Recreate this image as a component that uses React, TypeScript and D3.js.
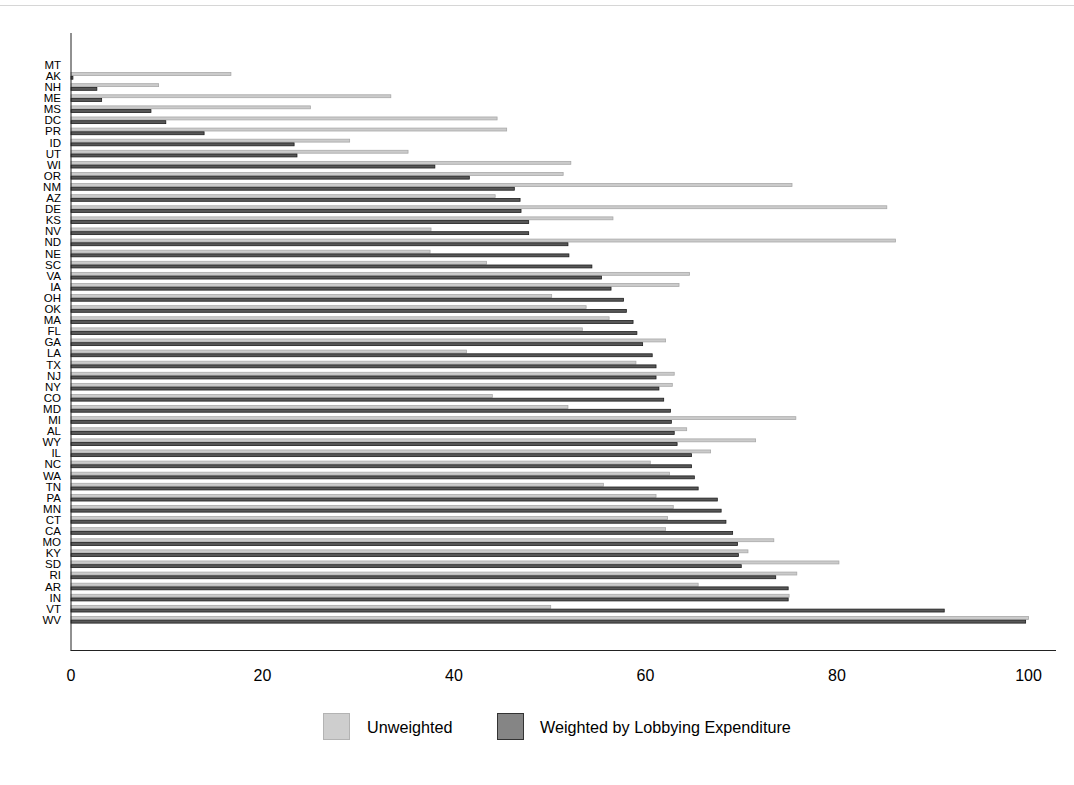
import React from "react";
import * as d3 from "d3";

const states: string[] = [
  "MT", "AK", "NH", "ME", "MS", "DC", "PR", "ID", "UT", "WI", "OR", "NM", "AZ",
  "DE", "KS", "NV", "ND", "NE", "SC", "VA", "IA", "OH", "OK", "MA", "FL", "GA",
  "LA", "TX", "NJ", "NY", "CO", "MD", "MI", "AL", "WY", "IL", "NC", "WA", "TN",
  "PA", "MN", "CT", "CA", "MO", "KY", "SD", "RI", "AR", "IN", "VT", "WV",
];

const unweighted: number[] = [
  0, 16.7, 9.15, 33.4, 25.0, 44.5, 45.5, 29.1, 35.2, 52.2, 51.4, 75.3, 44.3,
  85.2, 56.6, 37.6, 86.1, 37.5, 43.4, 64.6, 63.5, 50.2, 53.8, 56.2, 53.4, 62.1,
  41.3, 59.0, 63.0, 62.8, 44.0, 51.9, 75.7, 64.3, 71.5, 66.8, 60.5, 62.5, 55.6,
  61.1, 62.9, 62.3, 62.1, 73.4, 70.7, 80.2, 75.8, 65.5, 75.0, 50.1, 100,
];

const weighted: number[] = [
  0, 0.2, 2.7, 3.2, 8.35, 9.9, 13.9, 23.3, 23.6, 38.0, 41.6, 46.3, 46.9,
  47.0, 47.8, 47.8, 51.9, 52.0, 54.4, 55.4, 56.4, 57.7, 58.0, 58.7, 59.1, 59.7,
  60.7, 61.1, 61.1, 61.4, 61.9, 62.6, 62.7, 63.0, 63.3, 64.8, 64.8, 65.1, 65.5,
  67.5, 67.9, 68.4, 69.1, 69.6, 69.7, 70.0, 73.6, 74.9, 74.9, 91.2, 99.7,
];

const xTicks: number[] = [0, 20, 40, 60, 80, 100];

const seriesKeys: string[] = ["Unweighted", "Weighted by Lobbying Expenditure"];

const W = 1074;
const H = 785;
const FONT = "'Liberation Sans', Arial, Helvetica, sans-serif";

export default function App() {
  const x = d3.scaleLinear().domain([0, 100]).range([71, 1028.5]);
  const y = d3
    .scaleBand<string>()
    .domain(states)
    .range([59.25, 625.35])
    .paddingInner(0.33)
    .paddingOuter(0.165);
  const inner = d3
    .scaleBand<string>()
    .domain(seriesKeys)
    .range([0, y.bandwidth()]);

  const styles = [
    { fill: "#cbcbcb", stroke: "#a9a9a9" },
    { fill: "#575757", stroke: "#1e1e1e" },
  ];
  const data = [unweighted, weighted];

  return (
    <svg
      width={W}
      height={H}
      style={{ position: "absolute", left: 0, top: 0, background: "#fff" }}
      fontFamily={FONT}
    >
      <line x1={0} x2={W} y1={5.5} y2={5.5} stroke="#d6d6d6" strokeWidth={1} />

      {/* bars */}
      {states.map((s, i) => (
        <g key={s} transform={`translate(0,${y(s)})`}>
          {seriesKeys.map((k, j) => {
            const v = data[j][i];
            if (v <= 0) return null;
            return (
              <rect
                key={k}
                x={x(0)}
                y={(inner(k) as number) + 0.4}
                width={Math.max(x(v) - x(0), 0.5)}
                height={inner.bandwidth() - 0.8}
                fill={styles[j].fill}
                stroke={styles[j].stroke}
                strokeWidth={0.8}
              />
            );
          })}
        </g>
      ))}

      {/* state labels */}
      {states.map((s) => (
        <text
          key={"l" + s}
          x={61}
          y={(y(s) as number) + y.bandwidth() / 2}
          dy="0.35em"
          textAnchor="end"
          fontSize={11.5}
          fill="#000"
        >
          {s}
        </text>
      ))}

      {/* axes */}
      <line x1={71} x2={71} y1={33} y2={650.5} stroke="#222" strokeWidth={1} />
      <line x1={70.5} x2={1056} y1={650.5} y2={650.5} stroke="#222" strokeWidth={1} />

      {xTicks.map((t) => (
        <text
          key={"t" + t}
          x={x(t)}
          y={675}
          dy="0.35em"
          textAnchor="middle"
          fontSize={16}
          fill="#000"
        >
          {t}
        </text>
      ))}

      {/* legend */}
      <rect x={323.5} y={713.5} width={26} height={26} fill="#cecece" stroke="#b3b3b3" strokeWidth={1} />
      <text x={367} y={727} dy="0.35em" fontSize={16.2} fill="#000">
        {seriesKeys[0]}
      </text>
      <rect x={497.5} y={713.5} width={26} height={26} fill="#858585" stroke="#333" strokeWidth={1} />
      <text x={540} y={727} dy="0.35em" fontSize={16.2} fill="#000">
        {seriesKeys[1]}
      </text>
    </svg>
  );
}
